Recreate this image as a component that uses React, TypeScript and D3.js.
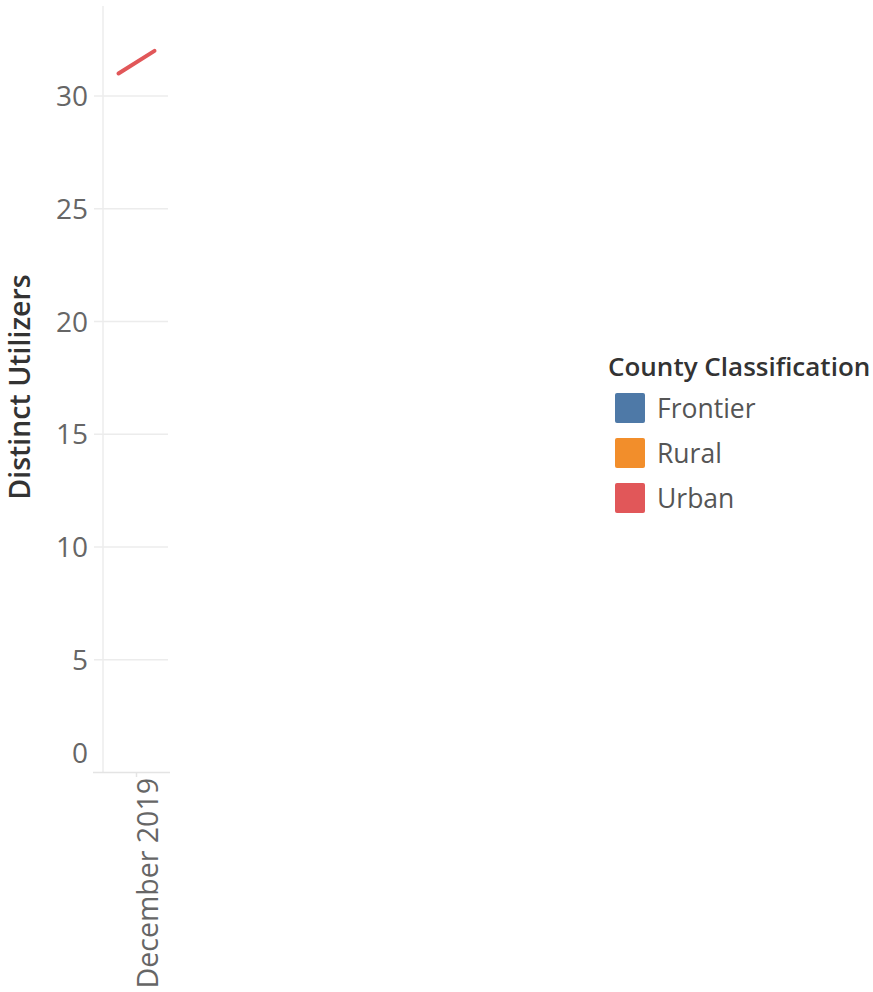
import React from "react";
import * as d3 from "d3";

const categories = ["Frontier", "Rural", "Urban"];
const colors = ["#4e79a7", "#f28e2b", "#e15759"];
const urbanPoints = ["Dec 2019 a", "Dec 2019 b"];
const urbanValues = [31, 32];
const yTicks = [0, 5, 10, 15, 20, 25, 30];
const xLabel = "December 2019";

export default function App() {
  const W = 873, H = 992;
  const y = d3.scaleLinear().domain([0, 30]).range([772.5, 96]);
  const x = d3.scalePoint<string>().domain(urbanPoints).range([103, 170]).padding(0.43);
  const line = d3.line<number>().x((_, i) => x(urbanPoints[i])!).y((d) => y(d));
  const font = "'Open Sans', sans-serif";
  return (
    <svg width={W} height={H} style={{ position: "absolute", left: 0, top: 0 }} fontFamily={font}>
      {yTicks.slice(1).map((t) => (
        <line key={t} x1={94} x2={168} y1={y(t)} y2={y(t)} stroke="#ececec" strokeWidth={1.5} />
      ))}
      <line x1={103} x2={103} y1={6} y2={772} stroke="#ececec" strokeWidth={1.5} />
      <line x1={93} x2={170} y1={772.5} y2={772.5} stroke="#e4e4e4" strokeWidth={1.5} />
      <line x1={136.5} x2={136.5} y1={772.5} y2={777} stroke="#e4e4e4" strokeWidth={1.5} />
      {yTicks.map((t) => (
        <text key={t} x={88} y={t === 0 ? y(t) - 20 : y(t)} dy="0.36em" textAnchor="end" fontSize={28} fill="#666">{t}</text>
      ))}
      <path d={line(urbanValues)!} stroke={colors[2]} strokeWidth={4} fill="none" strokeLinecap="round" />
      <text transform={`translate(158,778) rotate(-90)`} textAnchor="end" fontSize={28.5} fill="#666">{xLabel}</text>
      <text transform={`translate(30,387) rotate(-90)`} textAnchor="middle" fontSize={28.5} fontWeight={600} fill="#333">Distinct Utilizers</text>
      <text x={608} y={376} fontSize={26} fontWeight={600} fill="#333">County Classification</text>
      {categories.map((c, i) => (
        <g key={c} transform={`translate(615,${393 + i * 45})`}>
          <rect width={30} height={30} rx={2} fill={colors[i]} />
          <text x={42} y={15} dy="0.36em" fontSize={26.5} fill="#555">{c}</text>
        </g>
      ))}
    </svg>
  );
}
